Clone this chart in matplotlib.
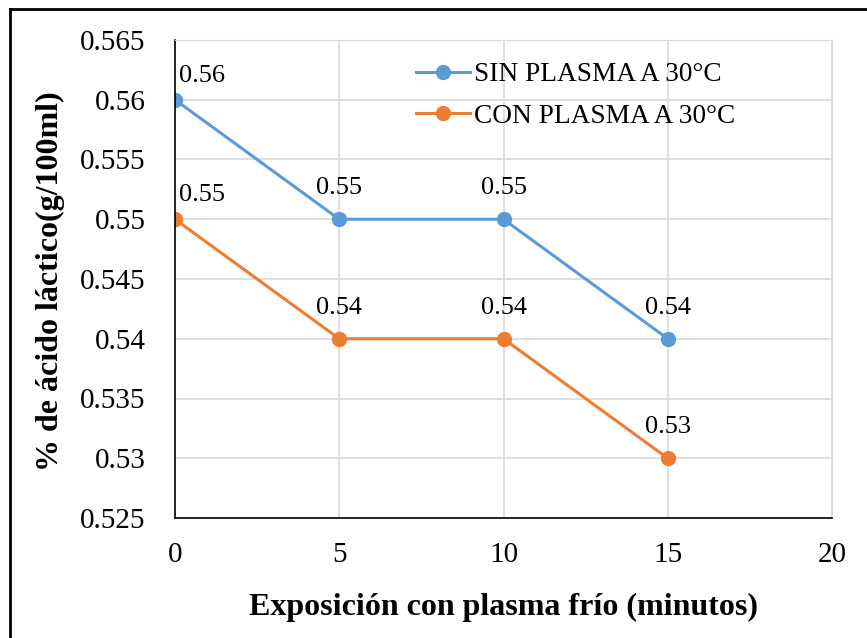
import matplotlib.pyplot as plt
from matplotlib.lines import Line2D

plt.rcParams['font.family'] = ['Liberation Serif', 'DejaVu Serif']

# Datos
minutos = [0, 5, 10, 15]
sin_plasma = [0.56, 0.55, 0.55, 0.54]
con_plasma = [0.55, 0.54, 0.54, 0.53]
etiquetas = ['SIN PLASMA A 30°C', 'CON PLASMA A 30°C']
y_ticks = [0.525, 0.53, 0.535, 0.54, 0.545, 0.55, 0.555, 0.56, 0.565]
x_ticks = [0, 5, 10, 15, 20]

azul = '#5b9bd5'
naranja = '#ed7d31'

fig = plt.figure(figsize=(8.67, 6.38), dpi=100)
ax = fig.add_axes([175 / 867, 1 - 518 / 638, (832 - 175) / 867, (518 - 40) / 638])

ax.plot(minutos, sin_plasma, color=azul, linewidth=2.2, marker='o', markersize=10, label=etiquetas[0])
ax.plot(minutos, con_plasma, color=naranja, linewidth=2.2, marker='o', markersize=10, label=etiquetas[1])

# Etiquetas de datos
for serie in (sin_plasma, con_plasma):
    for x, y in zip(minutos, serie):
        if x == 0:
            desp = (3, 13)
            ha = 'left'
        else:
            desp = (0, 18)
            ha = 'center'
        ax.annotate(f'{y:.2f}', (x, y), xytext=desp, textcoords='offset points',
                    ha=ha, va='baseline', fontsize=19)

ax.set_xlim(0, 20)
ax.set_ylim(0.525, 0.565)
ax.set_xticks(x_ticks)
ax.set_yticks(y_ticks)
ax.set_yticklabels([f'{v:g}' for v in y_ticks])
ax.tick_params(labelsize=21, length=0)
ax.tick_params(axis='y', pad=21)
ax.tick_params(axis='x', pad=17)

ax.grid(color='#d9d9d9', linewidth=1.2)
ax.set_axisbelow(True)
for s in ['top', 'right']:
    ax.spines[s].set_color('#d9d9d9')
for s in ['left', 'bottom']:
    ax.spines[s].set_color('black')
    ax.spines[s].set_linewidth(1.2)

ax.set_xlabel('Exposición con plasma frío (minutos)', fontsize=23, fontweight='bold', va='center')
ax.xaxis.set_label_coords(0.5, (518 - 607) / 478)
ax.set_ylabel('% de ácido láctico(g/100ml)', fontsize=23, fontweight='bold', va='center')
ax.yaxis.set_label_coords((50 - 175) / 657, 0.495)

ax.legend(loc='upper left', bbox_to_anchor=(0.33, 1.005), frameon=False, fontsize=19.7,
          handlelength=1.95, handletextpad=0.15, labelspacing=0.6)

# Marco exterior
fig.add_artist(Line2D([10 / 867, 1], [1 - 9 / 638, 1 - 9 / 638], color='black', linewidth=2,
                      transform=fig.transFigure))
fig.add_artist(Line2D([10 / 867, 10 / 867], [0, 1 - 9 / 638], color='black', linewidth=2,
                      transform=fig.transFigure))

fig.savefig('out.png', dpi=100)
